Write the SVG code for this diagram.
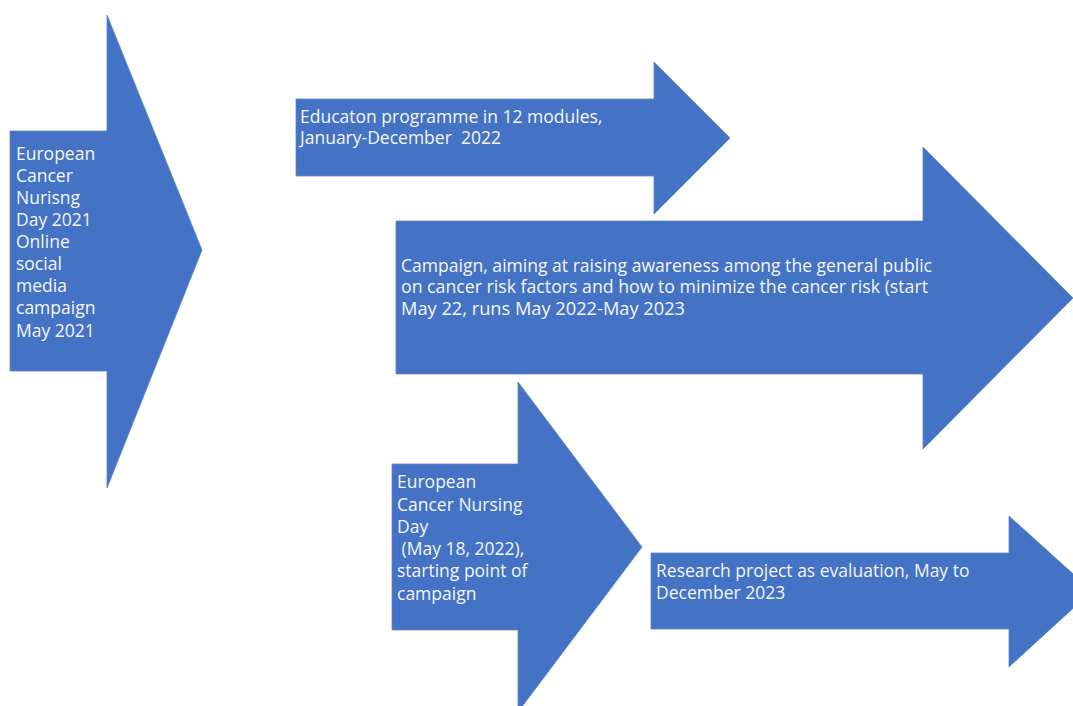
<svg xmlns="http://www.w3.org/2000/svg" width="1073" height="706" viewBox="0 0 1073 706">
<style>
.arrow{fill:#4472c4;stroke:#5b84cc;stroke-width:0.8}
.t{font-family:"Open Sans","Liberation Sans",sans-serif;font-size:17.5px;fill:#f4f6fa;white-space:pre}
</style>
<rect width="1073" height="706" fill="#ffffff"/>
<g id="node-ecnd2021">
<polygon class="arrow" points="10,131 107,131 107,15 202,250 107,488 107,371 10,371"/>
<text class="t" x="16"><tspan x="16" y="160">European</tspan><tspan x="16" y="182">Cancer</tspan><tspan x="16" y="204">Nurisng</tspan><tspan x="16" y="226">Day 2021</tspan><tspan x="16" y="248">Online</tspan><tspan x="16" y="270">social</tspan><tspan x="16" y="292">media</tspan><tspan x="16" y="314">campaign</tspan><tspan x="16" y="337">May 2021</tspan></text>
</g>
<g id="node-education">
<polygon class="arrow" points="296,99 654,99 654,62 730,138 654,214 654,176 296,176"/>
<text class="t" xml:space="preserve"><tspan x="300" y="123">Educaton programme in 12 modules,</tspan><tspan x="300" y="144">January-December  2022</tspan></text>
</g>
<g id="node-campaign">
<polygon class="arrow" points="396,221 923,221 923,147 1073,298 923,449 923,374 396,374"/>
<text class="t"><tspan x="401" y="272" textLength="531" lengthAdjust="spacingAndGlyphs">Campaign, aiming at raising awareness among the general public</tspan><tspan x="401" y="293" textLength="527" lengthAdjust="spacingAndGlyphs">on cancer risk factors and how to minimize the cancer risk (start</tspan><tspan x="401" y="315" textLength="284" lengthAdjust="spacingAndGlyphs">May 22, runs May 2022-May 2023</tspan></text>
</g>
<g id="node-ecnd2022">
<polygon class="arrow" points="392,464 518,464 518,382 642,547 518,712 518,630 392,630"/>
<text class="t" xml:space="preserve"><tspan x="397" y="488">European</tspan><tspan x="397" y="511">Cancer Nursing</tspan><tspan x="397" y="533">Day</tspan><tspan x="397" y="555"> (May 18, 2022),</tspan><tspan x="397" y="577">starting point of</tspan><tspan x="397" y="600">campaign</tspan></text>
</g>
<g id="node-research">
<polygon class="arrow" points="651,553 1009,553 1009,516 1092,591 1009,667 1009,629 651,629"/>
<text class="t"><tspan x="656" y="577">Research project as evaluation, May to</tspan><tspan x="656" y="599">December 2023</tspan></text>
</g>
<g id="connectors"></g>
</svg>
